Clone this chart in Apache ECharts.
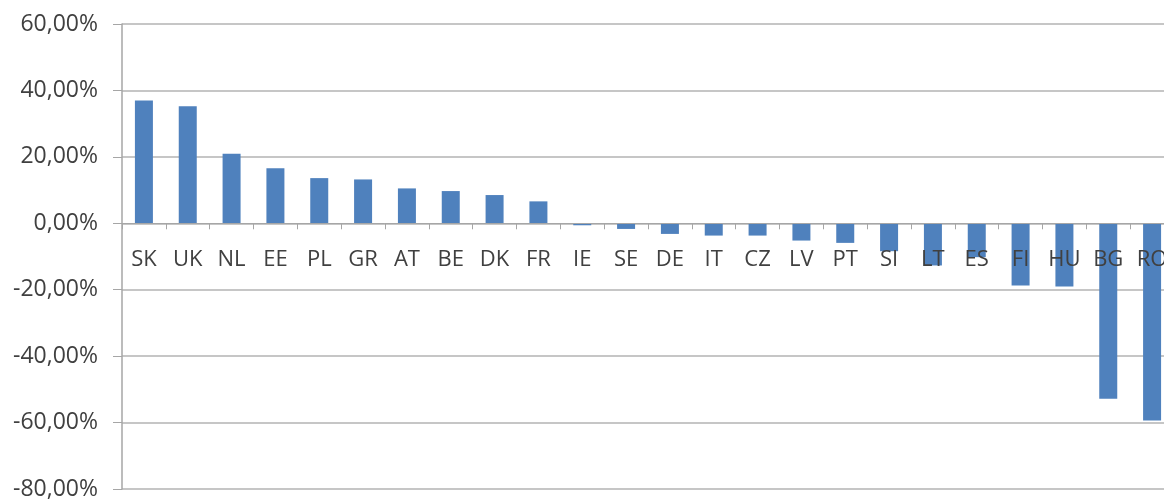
<!DOCTYPE html>
<html>
<head>
<meta charset="utf-8">
<script src="https://cdn.jsdelivr.net/npm/echarts@6/dist/echarts.min.js"></script>
<style>
html,body{margin:0;padding:0;background:#fff;overflow:hidden;}
#chart{width:1174px;height:501px;}
</style>
</head>
<body>
<div id="chart"></div>
<script>
const categories = ['SK','UK','NL','EE','PL','GR','AT','BE','DK','FR','IE','SE','DE','IT','CZ','LV','PT','SI','LT','ES','FI','HU','BG','RO'];
const values = [37.0, 35.2, 20.9, 16.6, 13.6, 13.2, 10.5, 9.7, 8.5, 6.6, -0.6, -1.7, -3.2, -3.7, -3.7, -5.2, -5.9, -8.4, -12.7, -10.2, -18.7, -19.0, -52.8, -59.4];
const yMin = -80, yMax = 60, yStep = 20;

const chart = echarts.init(document.getElementById('chart'));
const option = {
  animation: false,
  backgroundColor: '#ffffff',
  grid: { left: 122, right: 0, top: 24, bottom: 12, containLabel: false, outerBoundsMode: 'none' },
  xAxis: {
    type: 'category',
    data: categories,
    offset: 0,
    axisLine: { onZero: false, lineStyle: { color: '#a6a6a6', width: 1 } },
    axisTick: { show: true, length: 6, alignWithLabel: false, lineStyle: { color: '#a6a6a6' } },
    axisLabel: { color: '#404040', fontFamily: 'Open Sans', fontSize: 22, margin: 25, interval: 0 },
    z: 10
  },
  yAxis: {
    type: 'value',
    min: yMin, max: yMax, interval: yStep,
    axisLine: { show: true, lineStyle: { color: '#a6a6a6', width: 1.5 } },
    axisTick: { show: true, length: 9, lineStyle: { color: '#a6a6a6' } },
    splitLine: { show: true, lineStyle: { color: '#b3b3b3', width: 1.5 } },
    axisLabel: {
      color: '#404040', fontFamily: 'Open Sans', fontSize: 23, margin: 24,
      formatter: v => v.toFixed(2).replace('.', ',') + '%'
    }
  },
  series: [{
    type: 'bar',
    data: values,
    barWidth: 18,
    itemStyle: { color: '#4f81bd' },
    z: 2
  }]
};
chart.setOption(option);
// move the category axis onto the zero line using the library's own scale
const zeroY = chart.convertToPixel({ yAxisIndex: 0 }, 0);
const bottomY = chart.convertToPixel({ yAxisIndex: 0 }, yMin);
chart.setOption({ xAxis: { offset: -(bottomY - zeroY) } });
</script>
</body>
</html>
